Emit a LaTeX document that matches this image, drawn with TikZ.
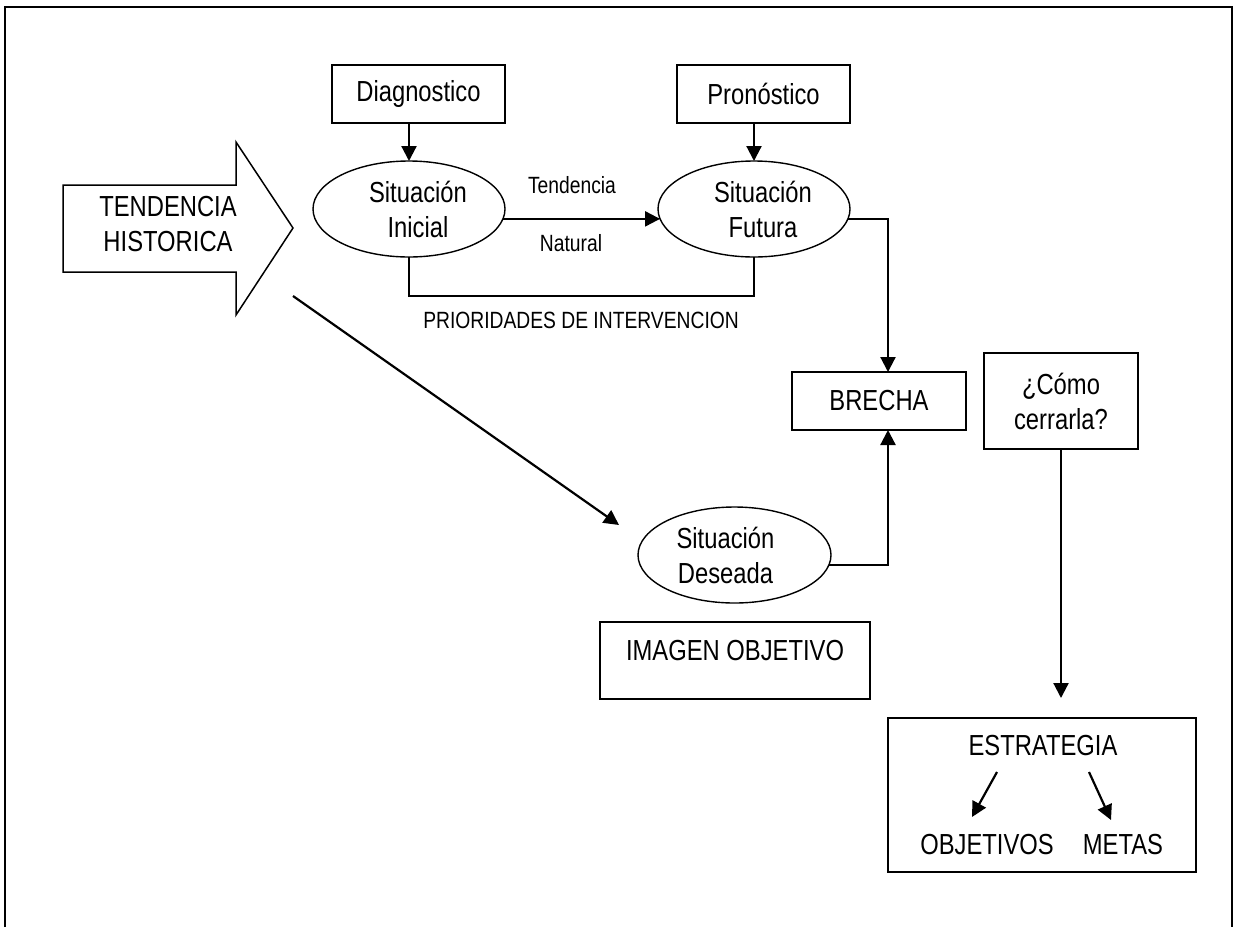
\documentclass[tikz,border=0pt]{standalone}
\usepackage{fontspec}
\setmainfont{Liberation Sans}[FakeStretch=0.82]
\usetikzlibrary{shapes.geometric,arrows.meta,calc}
\newcommand{\bigtxt}{\fontsize{29}{35}\selectfont}
\newcommand{\smalltxt}{\fontsize{23.5}{28}\selectfont}
\tikzset{
  box/.style={draw, rectangle, line width=2pt, inner sep=0pt, outer sep=0pt, font=\bigtxt, align=center},
  oval/.style={draw, ellipse, line width=1.4pt, inner sep=0pt, outer sep=0pt, minimum width=192pt, minimum height=96pt, font=\bigtxt, align=center},
  txt/.style={inner sep=0pt, font=\bigtxt, align=center},
  smalltext/.style={inner sep=0pt, font=\smalltxt, align=center},
  conn/.style={line width=2.2pt},
  arr/.style={conn, -{Triangle[length=15pt,width=15pt]}},
  framestyle/.style={line width=2.2pt},
  bigarrow/.style={line width=1.5pt, line join=miter}
}
\begin{document}
\begin{tikzpicture}[x=1pt,y=-1pt]
\useasboundingbox (0,0) rectangle (1234,927);
% page frame (open at bottom)
\draw[framestyle] (5,927) -- (5,7) -- (1232,7) -- (1232,927);

% big arrow
\draw[bigarrow] (63,185) -- (236,185) -- (236,142) -- (293,228) -- (236,315) -- (236,272) -- (63,272) -- cycle;
\node[txt] (tend) at (168,224) {TENDENCIA\\HISTORICA};

% boxes
\node[box, minimum width=173pt, minimum height=58pt] (diag) at (418.5,94) {Diagnostico};
\node[box, minimum width=173pt, minimum height=58pt] (pron) at (763.5,94) {Pronóstico};
\node[box, minimum width=174pt, minimum height=58pt] (brecha) at (879,401) {BRECHA};
\node[box, minimum width=154pt, minimum height=96pt] (como) at (1061,401) {¿Cómo\\cerrarla?};
\node[box, minimum width=270pt, minimum height=77pt] (imagen) at (735,660.5) {};
\node[txt] (imagentxt) at (735,651) {IMAGEN OBJETIVO};
\node[box, minimum width=308pt, minimum height=154pt] (estr) at (1042,795) {};
\node[txt] (estrtxt) at (1043,746) {ESTRATEGIA};
\node[txt] (objtxt) at (987,845) {OBJETIVOS};
\node[txt] (metastxt) at (1123,845) {METAS};

% ellipses
\node[oval] (ini) at (409,209) {\hspace*{18pt}Situación\\\hspace*{18pt}Inicial};
\node[oval] (fut) at (754,209) {\hspace*{18pt}Situación\\\hspace*{18pt}Futura};
\node[oval, minimum width=193pt] (des) at (734.5,555) {Situación\hspace*{18pt}\\Deseada\hspace*{18pt}};

% labels
\node[smalltext] (tendlbl) at (572,185) {Tendencia};
\node[smalltext] (natlbl) at (571,243) {Natural};
\coordinate (prio) at (581,296);
\node[smalltext] (priolbl) at (581,320) {PRIORIDADES DE INTERVENCION};

% connectors
\draw[arr] (ini.north |- diag.south) -- (ini.north);
\draw[arr] (fut.north |- pron.south) -- (fut.north);
\draw[arr] (ini.-6) -- (fut.186);
\draw[conn] (ini.south) |- (prio) -| (fut.south);
\draw[arr] (fut.-6) -| ([xshift=9pt]brecha.north);
\draw[arr] (des.-6) -| ([xshift=9pt]brecha.south);
\draw[arr, shorten >=20pt] (como.south) -- (como.south |- estr.north);

\coordinate (d1) at (293,296);
\coordinate (d2) at (619,525);
\draw[arr] (d1) -- (d2);

\coordinate (s1) at (997,772);
\coordinate (s2) at (972,817);
\coordinate (s3) at (1089,772);
\coordinate (s4) at (1111,820);
\draw[arr] (s1) -- (s2);
\draw[arr] (s3) -- (s4);
\end{tikzpicture}
\end{document}
